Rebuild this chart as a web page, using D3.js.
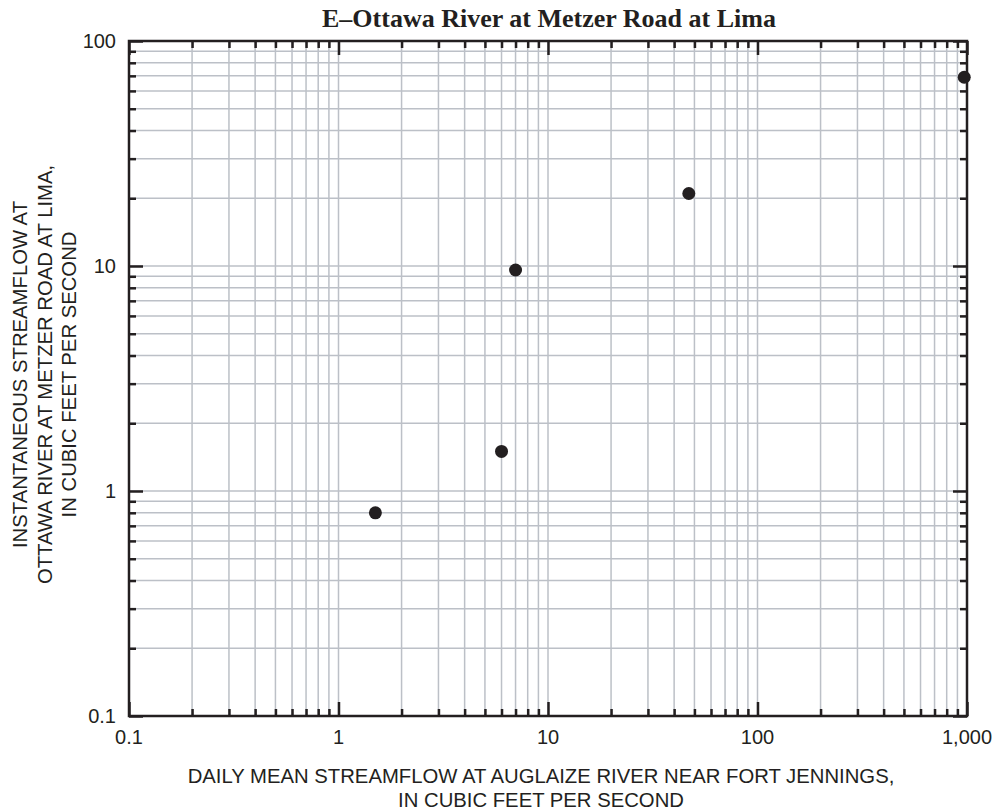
<!DOCTYPE html>
<html><head><meta charset="utf-8">
<script src="https://cdn.jsdelivr.net/npm/d3@7"></script>
<style>
body{margin:0;background:#fff}
text{fill:#231f20}
</style></head>
<body><svg id="chart" width="999" height="810"></svg>
<script>
// Paired streamflow observations (cubic feet per second)
const chartTitle = "E\u2013Ottawa River at Metzer Road at Lima";
const dailyMeanFlow = [1.5, 6, 7, 47, 970];       // Auglaize River near Fort Jennings
const instantaneousFlow = [0.8, 1.5, 9.6, 21, 69]; // Ottawa River at Metzer Road at Lima
const xTickValues = [0.1, 1, 10, 100, 1000];
const xTickLabels = ["0.1", "1", "10", "100", "1,000"];
const yTickValues = [0.1, 1, 10, 100];
const yTickLabels = ["0.1", "1", "10", "100"];
const xTitleLines = ["DAILY MEAN STREAMFLOW AT AUGLAIZE RIVER NEAR FORT JENNINGS,", "IN CUBIC FEET PER SECOND"];
const yTitleLines = ["INSTANTANEOUS STREAMFLOW AT", "OTTAWA RIVER AT METZER ROAD AT LIMA,", "IN CUBIC FEET PER SECOND"];

const ink = "#231f20", gridColor = "#bcc0c7";
const margin = {left: 129, top: 41, right: 32, bottom: 94};
const W = 999, H = 810;
const iw = W - margin.left - margin.right, ih = H - margin.top - margin.bottom;

const svg = d3.select("#chart");
const g = svg.append("g").attr("transform", `translate(${margin.left},${margin.top})`);

const x = d3.scaleLog().domain([0.1, 1000]).range([0, iw]);
const y = d3.scaleLog().domain([0.1, 100]).range([ih, 0]);

const isMajor = v => Math.abs(Math.log10(v) - Math.round(Math.log10(v))) < 1e-9;
const xAll = x.ticks(), yAll = y.ticks();
const xMinor = xAll.filter(v => !isMajor(v)), yMinor = yAll.filter(v => !isMajor(v));
const xMajor = xAll.filter(isMajor), yMajor = yAll.filter(isMajor);

// grid
g.append("g").selectAll("line").data(xAll.filter(v => v > 0.1 && v < 1000)).join("line")
  .attr("x1", d => x(d)).attr("x2", d => x(d)).attr("y1", 0).attr("y2", ih)
  .attr("stroke", gridColor).attr("stroke-width", 1.5);
g.append("g").selectAll("line").data(yAll.filter(v => v > 0.1 && v < 100)).join("line")
  .attr("y1", d => y(d)).attr("y2", d => y(d)).attr("x1", 0).attr("x2", iw)
  .attr("stroke", gridColor).attr("stroke-width", 1.5);

// inward ticks on all four sides
function tickAxis(gen, vals, size, transform) {
  const a = g.append("g").attr("transform", transform)
    .call(gen.tickValues(vals).tickSize(size).tickSizeOuter(0).tickFormat(""));
  a.select(".domain").remove();
  a.selectAll(".tick line").attr("stroke", ink).attr("stroke-width", 2.5);
}
tickAxis(d3.axisBottom(x), xMinor, -7, `translate(0,${ih})`);
tickAxis(d3.axisBottom(x), xMajor, -14, `translate(0,${ih})`);
tickAxis(d3.axisTop(x), xMinor, -7, `translate(0,0)`);
tickAxis(d3.axisTop(x), xMajor, -14, `translate(0,0)`);
tickAxis(d3.axisLeft(y), yMinor, -7, `translate(0,0)`);
tickAxis(d3.axisLeft(y), yMajor, -14, `translate(0,0)`);
tickAxis(d3.axisRight(y), yMinor, -7, `translate(${iw},0)`);
tickAxis(d3.axisRight(y), yMajor, -14, `translate(${iw},0)`);

// frame
g.append("rect").attr("width", iw).attr("height", ih)
  .attr("fill", "none").attr("stroke", ink).attr("stroke-width", 2.5);

// tick labels
const labelFont = "'Liberation Sans', Arial, Helvetica, sans-serif";
g.append("g").selectAll("text").data(xTickValues).join("text")
  .attr("x", d => x(d)).attr("y", ih + 28)
  .attr("text-anchor", "middle").attr("font-family", labelFont).attr("font-size", 20)
  .text((d, i) => xTickLabels[i]);
g.append("g").selectAll("text").data(yTickValues).join("text")
  .attr("x", -13).attr("y", d => y(d) + 7)
  .attr("text-anchor", "end").attr("font-family", labelFont).attr("font-size", 20)
  .text((d, i) => yTickLabels[i]);

// points
g.append("g").selectAll("circle").data(dailyMeanFlow).join("circle")
  .attr("cx", d => x(d)).attr("cy", (d, i) => y(instantaneousFlow[i]))
  .attr("r", 6.5).attr("fill", ink);

// titles
svg.append("text").attr("x", margin.left + iw / 2 + 1).attr("y", 27)
  .attr("text-anchor", "middle").attr("font-family", "'Liberation Serif', 'Times New Roman', serif")
  .attr("font-weight", "bold").attr("font-size", 26).text(chartTitle);

svg.append("g").selectAll("text").data(xTitleLines).join("text")
  .attr("x", margin.left + iw / 2 - 7).attr("y", (d, i) => 783 + i * 24)
  .attr("text-anchor", "middle").attr("font-family", labelFont).attr("font-size", 20.3)
  .text(d => d);

svg.append("g").attr("transform", `translate(0,${margin.top + ih / 2 - 4})`)
  .selectAll("text").data(yTitleLines).join("text")
  .attr("transform", (d, i) => `translate(${27 + i * 24.5},0) rotate(-90)`)
  .attr("text-anchor", "middle").attr("font-family", labelFont).attr("font-size", 20.3)
  .text(d => d);
</script>
</body></html>
